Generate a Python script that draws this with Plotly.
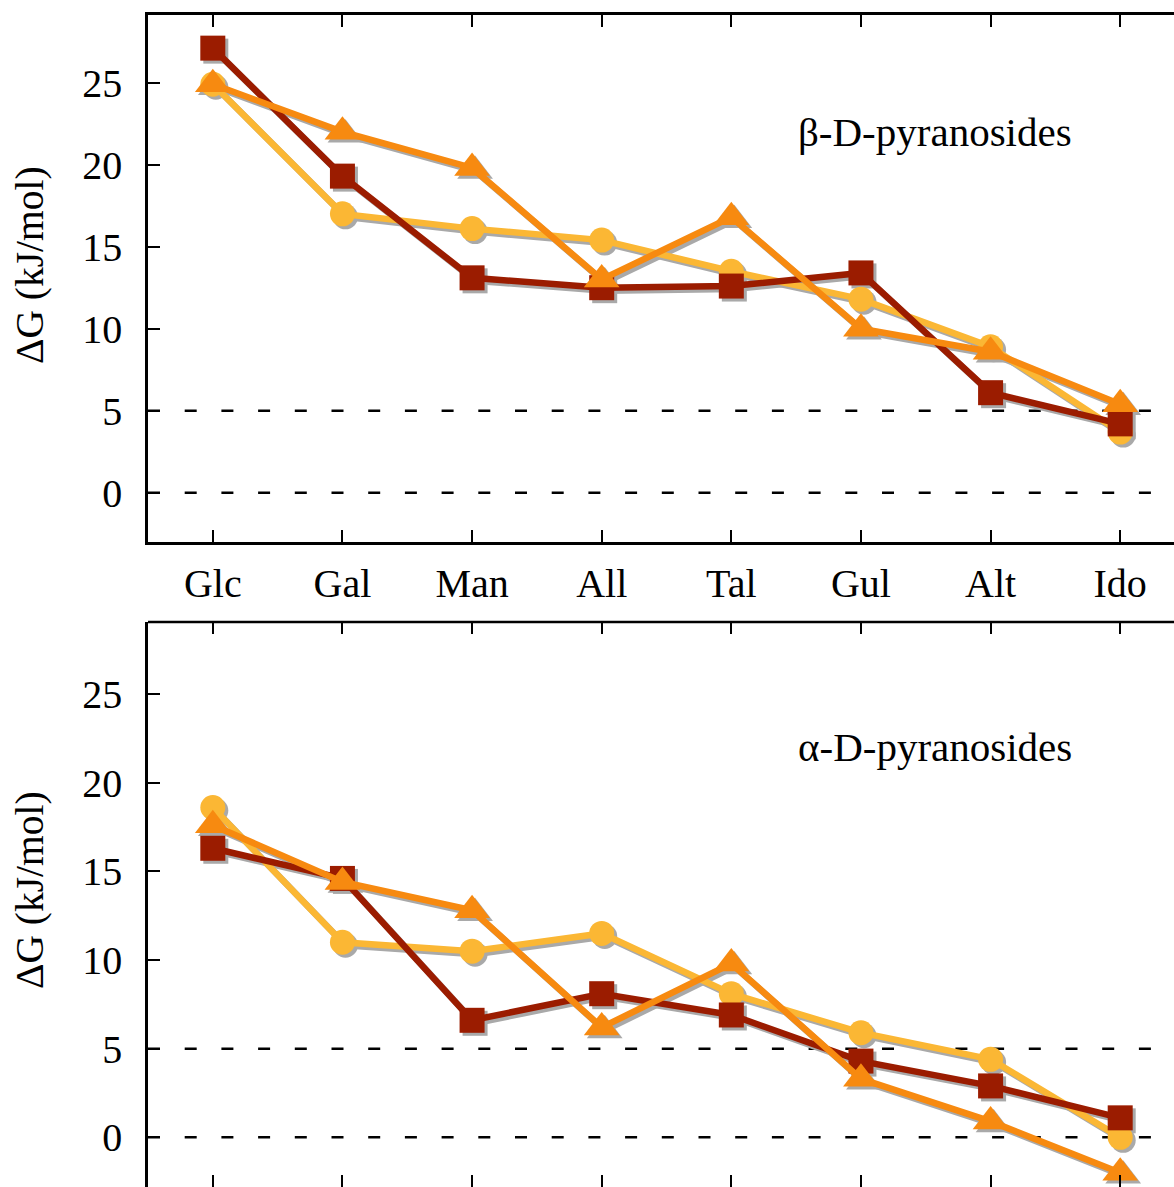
import plotly.graph_objects as go

# ---------------- data ----------------
categories = ["Glc", "Gal", "Man", "All", "Tal", "Gul", "Alt", "Ido"]

beta_circle = [24.9, 17.0, 16.1, 15.4, 13.5, 11.8, 8.9, 3.7]
beta_triangle = [24.9, 22.0, 19.8, 13.0, 16.8, 10.0, 8.6, 5.4]
beta_square = [27.1, 19.3, 13.1, 12.5, 12.6, 13.4, 6.1, 4.2]

alpha_circle = [18.6, 11.0, 10.5, 11.5, 8.1, 5.9, 4.4, 0.0]
alpha_triangle = [17.6, 14.4, 12.8, 6.2, 9.8, 3.3, 0.9, -2.0]
alpha_square = [16.3, 14.6, 6.6, 8.1, 6.9, 4.3, 2.9, 1.1]

ref_levels = [0, 5]
panel_labels = ["β-D-pyranosides", "α-D-pyranosides"]
y_title = "ΔG (kJ/mol)"
y_ticks = [0, 5, 10, 15, 20, 25]

# ---------------- style ----------------
W, H = 1174, 1187
ML, MT = 148, 15
FONT = "Liberation Serif"
C_CIRCLE = "#FBB734"
C_TRI = "#F78A10"
C_SQ = "#9B1C00"
SHADOW = "#A9A9A9"

xr = [-0.5, 7.415]
yr_top = [-3.0, 29.12]
yr_bot = [-2.80, 29.06]
PH = H - MT
dom_top = [(H - 542) / PH, 1.0]
dom_bot = [0.0, (H - 622) / PH]

plot_w = W - ML
px_x = (xr[1] - xr[0]) / plot_w
px_y_top = (yr_top[1] - yr_top[0]) / ((dom_top[1] - dom_top[0]) * PH)
px_y_bot = (yr_bot[1] - yr_bot[0]) / ((dom_bot[1] - dom_bot[0]) * PH)

xs = list(range(len(categories)))

fig = go.Figure()

series = [
    ("circle", C_CIRCLE, 25),
    ("square", C_SQ, 25),
    ("triangle-up", C_TRI, 31),
]

panels = [
    ("x", "y", [beta_circle, beta_square, beta_triangle], px_y_top),
    ("x2", "y2", [alpha_circle, alpha_square, alpha_triangle], px_y_bot),
]

LW = 6.5
off = 3.0
for xa, ya, data, pxy in panels:
    for (sym, col, size), vals in zip(series, data):
        fig.add_trace(go.Scatter(
            x=[v + off * px_x for v in xs], y=[v - off * pxy for v in vals],
            mode="lines+markers", xaxis=xa, yaxis=ya,
            line=dict(color=SHADOW, width=LW),
            marker=dict(symbol=sym, size=size, color=SHADOW, line=dict(width=0)),
            showlegend=False, hoverinfo="skip",
        ))
    for (sym, col, size), vals in zip(series, data):
        fig.add_trace(go.Scatter(
            x=xs, y=vals, mode="lines+markers", xaxis=xa, yaxis=ya,
            line=dict(color=col, width=LW),
            marker=dict(symbol=sym, size=size, color=col, line=dict(width=0)),
            showlegend=False,
        ))

# dashed reference lines
for xa, ya in [("x", "y"), ("x2", "y2")]:
    for lv in ref_levels:
        fig.add_shape(type="line", xref=f"{xa} domain", yref=ya,
                      x0=0, x1=1, y0=lv, y1=lv,
                      line=dict(color="black", width=2.5, dash="12px,24.7px"),
                      layer="below")

# top frame line of bottom panel
fig.add_shape(type="line", xref="x2 domain", yref="y2 domain", x0=0, x1=1, y0=1, y1=1,
              line=dict(color="black", width=2.5))

axis_common = dict(ticks="inside", ticklen=12, tickwidth=2, tickcolor="black",
                   linecolor="black", linewidth=2.5, showgrid=False, zeroline=False)

fig.update_layout(
    width=W, height=H,
    margin=dict(l=ML, r=0, t=MT, b=0),
    paper_bgcolor="white", plot_bgcolor="white",
    font=dict(family=FONT, size=40, color="black"),
    showlegend=False,
    xaxis=dict(range=xr, domain=[0, 1], anchor="y", tickvals=xs, ticktext=categories,
               showline=True, mirror="ticks", tickfont=dict(size=40),
               ticklabelstandoff=4, **axis_common),
    yaxis=dict(range=yr_top, domain=dom_top, anchor="x", tickvals=y_ticks,
               showline=True, mirror=False, tickfont=dict(size=40),
               ticklabelstandoff=15, **axis_common),
    xaxis2=dict(range=xr, domain=[0, 1], anchor="y2", tickvals=xs, showticklabels=False,
                showline=False, mirror="ticks", **axis_common),
    yaxis2=dict(range=yr_bot, domain=dom_bot, anchor="x2", tickvals=y_ticks,
                showline=True, mirror=False, tickfont=dict(size=40),
                ticklabelstandoff=15, **axis_common),
)

# panel labels
for xa, ya, lab in [("x", "y", panel_labels[0]), ("x2", "y2", panel_labels[1])]:
    fig.add_annotation(x=4.5, y=22.0, xref=xa, yref=ya, text=lab,
                       showarrow=False, xanchor="left", yanchor="middle",
                       font=dict(family=FONT, size=41))

# y titles (paper coords relative to plot area)
for py in (265, 890):
    fig.add_annotation(x=(30 - ML) / plot_w, y=(H - py) / PH, xref="paper", yref="paper",
                       yanchor="middle", xanchor="center", text=y_title, textangle=-90,
                       showarrow=False, font=dict(family=FONT, size=39.5))

fig.write_html("out.html")
